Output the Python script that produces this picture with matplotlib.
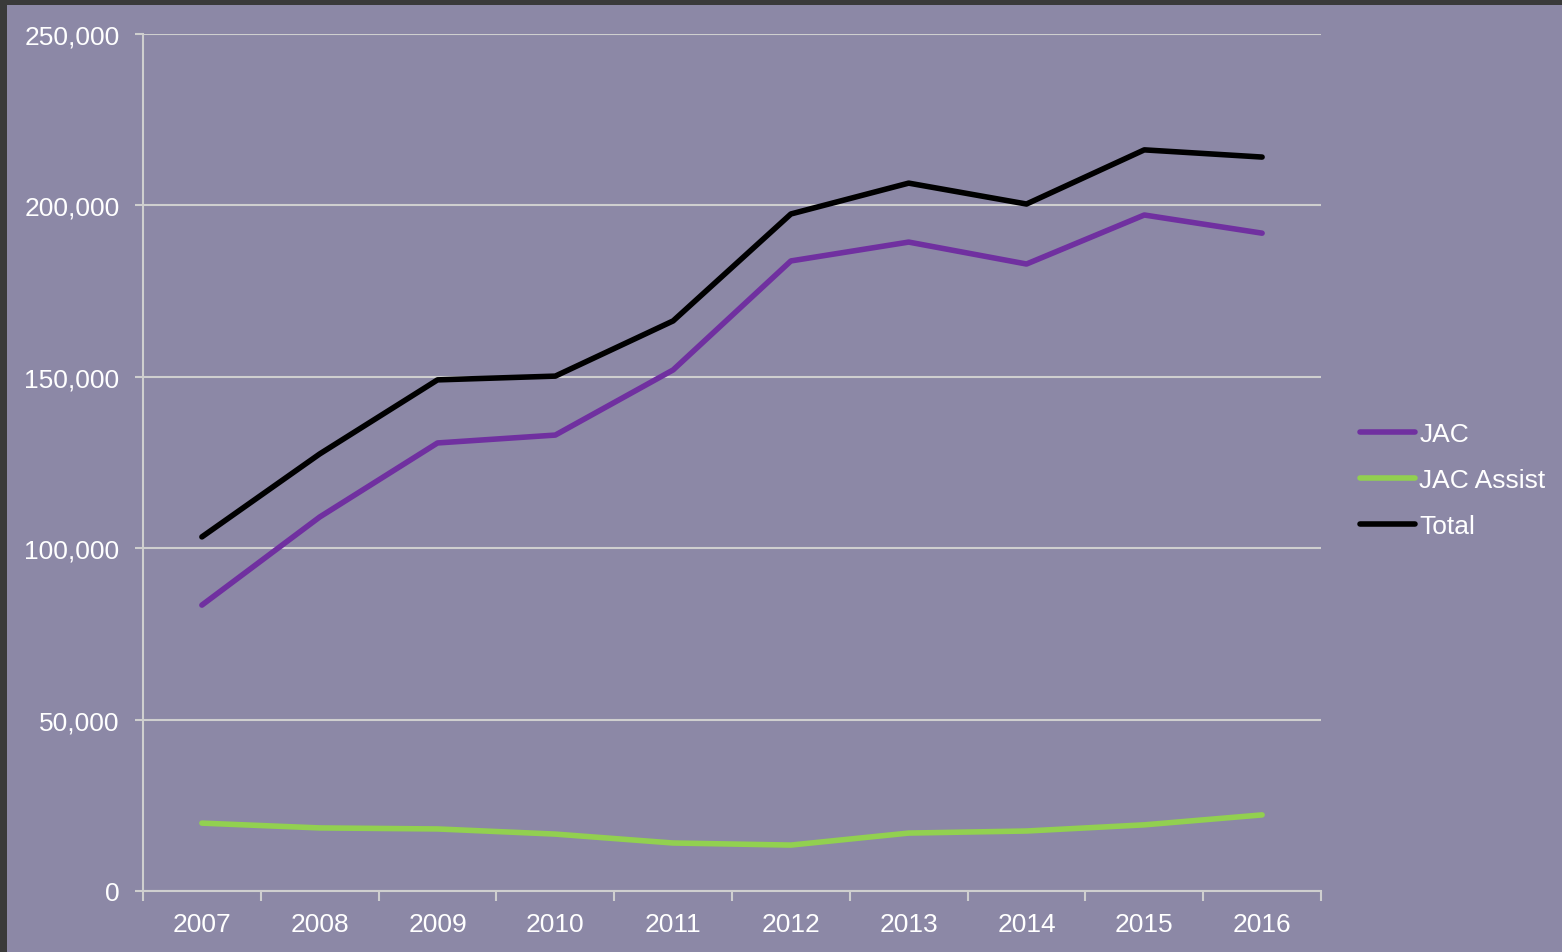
import matplotlib
matplotlib.use("Agg")
import matplotlib.pyplot as plt
from matplotlib.patches import Rectangle
from matplotlib.ticker import FuncFormatter, FixedLocator

years = ["2007", "2008", "2009", "2010", "2011", "2012", "2013", "2014", "2015", "2016"]
jac = [83400, 109100, 130700, 133000, 152000, 183800, 189300, 182900, 197200, 191900]
jac_assist = [19800, 18400, 18100, 16600, 14000, 13400, 16900, 17500, 19300, 22200]
total = [103300, 127500, 149100, 150200, 166300, 197500, 206500, 200400, 216200, 214100]

plt.rcParams['font.family'] = ['Liberation Sans', 'DejaVu Sans']

W, H = 1562, 953
fig = plt.figure(figsize=(W / 100, H / 100), dpi=100, facecolor="#3a3a3a")
bg = "#8c88a6"
fig.patches.append(Rectangle((7 / W, 0), 1 - 7 / W, 1 - 6 / H, transform=fig.transFigure,
                             facecolor=bg, edgecolor="none", zorder=-10))

ax = fig.add_axes([143 / W, (H - 892) / H, (1321 - 143) / W, (892 - 35) / H])
ax.set_facecolor(bg)
ax.patch.set_alpha(0)

x = list(range(len(years)))
lw = 4.0
ax.plot(x, jac, color="#7030a0", lw=lw, solid_capstyle="round", label="JAC", zorder=3)
ax.plot(x, jac_assist, color="#92d050", lw=lw, solid_capstyle="round", label="JAC Assist", zorder=3)
ax.plot(x, total, color="#000000", lw=lw, solid_capstyle="round", label="Total", zorder=3)

ax.set_xlim(-0.5, len(years) - 0.5)
ax.set_ylim(0, 250000)
ax.set_yticks(range(0, 250001, 50000))
ax.yaxis.set_major_formatter(FuncFormatter(lambda v, p: f"{int(v):,}"))
ax.grid(axis="y", color="#cfcfcf", lw=1.5, zorder=1)

ax.set_xticks(x)
ax.set_xticklabels(years)
ax.xaxis.set_minor_locator(FixedLocator([i - 0.5 for i in range(len(years) + 1)]))
ax.tick_params(axis="x", which="major", length=0, pad=15, labelsize=19, labelcolor="white")
ax.tick_params(axis="x", which="minor", length=7, width=1.5, color="#cfcfcf", direction="out")
ax.tick_params(axis="y", length=6, width=1.5, color="#cfcfcf", pad=11, labelsize=19, labelcolor="white")

for s in ["top", "right"]:
    ax.spines[s].set_visible(False)
for s in ["left", "bottom"]:
    ax.spines[s].set_color("#cfcfcf")
    ax.spines[s].set_linewidth(1.5)

leg = fig.legend(*ax.get_legend_handles_labels(), loc="center left",
                 bbox_to_anchor=(1360 / W, (H - 481) / H), frameon=False,
                 fontsize=19, labelcolor="white", handlelength=2.1, handletextpad=0.15,
                 labelspacing=0.84, borderaxespad=0, borderpad=0)

fig.savefig("out.png", dpi=100, facecolor=fig.get_facecolor())
